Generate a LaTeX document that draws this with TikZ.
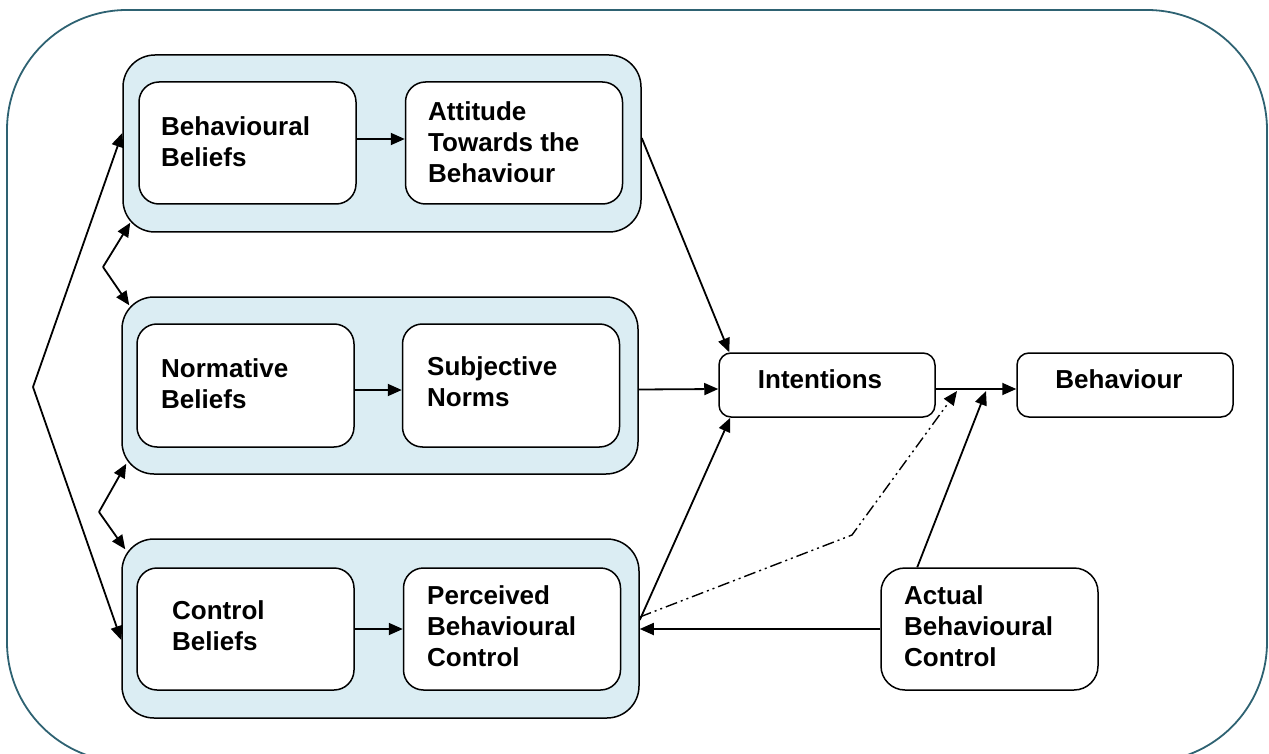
\documentclass[tikz,border=0pt]{standalone}
\usepackage{fontspec}
\setmainfont{Liberation Sans}
\usetikzlibrary{arrows.meta,calc}
\definecolor{frame}{HTML}{2E6272}
\definecolor{grpfill}{HTML}{DBEDF3}
\begin{document}
\begin{tikzpicture}[x=1pt,y=-1pt,
  grp/.style={draw=black,line width=1.5pt,fill=grpfill,rounded corners=32pt,inner sep=0pt},
  inbox/.style={draw=black,line width=1.5pt,fill=white,rounded corners=20pt,inner sep=0pt,minimum width=217pt,minimum height=122pt},
  smallbox/.style={draw=black,line width=1.5pt,fill=white,rounded corners=12pt,inner sep=0pt,minimum width=216pt,minimum height=64pt},
  lbl/.style={font=\fontsize{26}{31}\selectfont\bfseries,align=left,inner sep=0pt},
  arr/.style={line width=1.8pt,-{Triangle[length=14pt,width=12pt]}},
  dd/.style={line width=1.4pt,dash pattern=on 12pt off 4pt on 2pt off 4pt on 2pt off 4pt,-{Triangle[length=14pt,width=12pt]}}
]
\useasboundingbox (0,0) rectangle (1269,754);
% outer frame
\draw[frame,line width=1.8pt,rounded corners=120pt] (7,10) rectangle (1267,762);
% groups
\node[grp,minimum width=518pt,minimum height=177pt] (g1) at (382,143.5) {};
\node[grp,minimum width=516pt,minimum height=177pt] (g2) at (380,385.5) {};
\node[grp,minimum width=517pt,minimum height=179pt] (g3) at (380.5,628.5) {};
% inner boxes
\node[inbox] (bb) at (247.5,143) {};
\node[inbox] (att) at (514,143) {};
\node[inbox,minimum height=123pt] (nb) at (245.5,385.5) {};
\node[inbox,minimum height=123pt] (sn) at (511,385.5) {};
\node[inbox] (cb) at (245.5,629) {};
\node[inbox] (pbc) at (512,629) {};
\node[smallbox] (int) at (827,385) {};
\node[smallbox] (beh) at (1125,385) {};
\node[inbox,rounded corners=24pt] (abc) at (989.5,629) {};
% labels
\node[lbl,anchor=west] (bbt) at (161,142) {Behavioural\\Beliefs};
\node[lbl,anchor=west] (attt) at (428,142) {Attitude\\Towards the\\Behaviour};
\node[lbl,anchor=west] (nbt) at (161,384) {Normative\\Beliefs};
\node[lbl,anchor=west] (snt) at (427,381.5) {Subjective\\Norms};
\node[lbl,anchor=west] (cbt) at (172,625.5) {Control\\Beliefs};
\node[lbl,anchor=west] (pbct) at (427,626) {Perceived\\Behavioural\\Control};
\node[lbl] (intt) at (820,379) {Intentions};
\node[lbl] (beht) at (1119,379) {Behaviour};
\node[lbl,anchor=west] (abct) at (904,626.5) {Actual\\Behavioural\\Control};
% inner arrows
\draw[arr] ([yshift=4pt]bb.east) -- ([yshift=4pt]att.west);
\draw[arr] ([yshift=-4.5pt]nb.east) -- ([yshift=-4.5pt]sn.west);
\draw[arr] (cb.east) -- (pbc.west);
% to intentions
\draw[arr] ([yshift=5.5pt]g1.east) -- ([xshift=11pt]int.north west);
\draw[arr] ([yshift=-4pt]g2.east) -- ([yshift=-4pt]int.west);
\draw[arr] ([yshift=8.5pt]g3.east) -- ([xshift=12pt]int.south west);
% intentions to behaviour
\draw[arr] ([yshift=-4pt]int.east) -- ([yshift=-4pt]beh.west);
\coordinate (j1) at (957,391);
\coordinate (j2) at (986,391);
\coordinate (kink) at (852,535);
\draw[dd] ([yshift=11.5pt]g3.east) -- (kink) -- (j1);
\draw[arr] ([xshift=37pt]abc.north west) -- (j2);
\draw[arr] (abc.west) -- (abc.west -| g3.east);
% left chevrons
\coordinate (v0) at (33,387);
\coordinate (v1) at (103,267);
\coordinate (v2) at (99,512);
\draw[arr] (v0) -- ([yshift=10.5pt]g1.west);
\draw[arr] (v0) -- ([yshift=-11.5pt]g3.west);
\draw[arr] (v1) -- ([xshift=8pt,yshift=10pt]g1.south west);
\draw[arr] (v1) -- ([xshift=8pt,yshift=-9pt]g2.north west);
\draw[arr] (v2) -- ([xshift=5pt,yshift=11pt]g2.south west);
\draw[arr] (v2) -- ([xshift=4pt,yshift=-11pt]g3.north west);
\end{tikzpicture}
\end{document}
